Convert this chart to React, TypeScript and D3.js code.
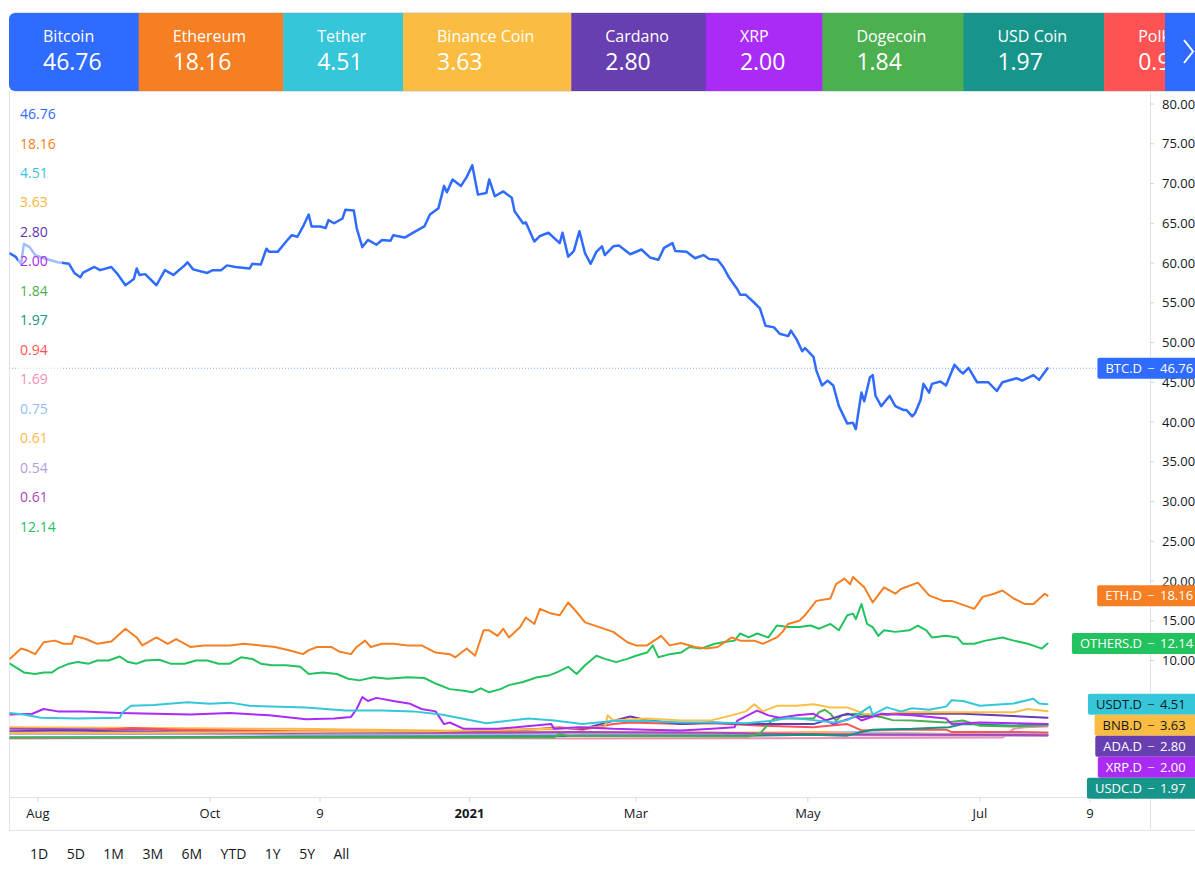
import React from "react";
import * as d3 from "d3";

type Pt = [number, number]; // [days since 2020-07-22, dominance %]

const DAY = 86400000;
const START = Date.UTC(2020, 6, 22);
const FONT = "'Open Sans', 'DejaVu Sans', sans-serif";

// ---------- header tiles ----------
const tileNames = ["Bitcoin", "Ethereum", "Tether", "Binance Coin", "Cardano", "XRP", "Dogecoin", "USD Coin", "Polkadot"];
const tileValues = ["46.76", "18.16", "4.51", "3.63", "2.80", "2.00", "1.84", "1.97", "0.94"];
const tileColors = ["#2f6bff", "#f57f22", "#36c6d9", "#fabd41", "#673fb0", "#aa2bf5", "#4caf50", "#17958a", "#ff5252"];

// ---------- left legend ----------
const legendValues = ["46.76", "18.16", "4.51", "3.63", "2.80", "2.00", "1.84", "1.97", "0.94", "1.69", "0.75", "0.61", "0.54", "0.61", "12.14"];
const legendColors = ["#2f6bff", "#f57f22", "#36c6d9", "#fab43c", "#5e35b1", "#aa2bf5", "#4caf50", "#159485", "#ff5252", "#f48fb1", "#90bff9", "#ffb74d", "#b39ddb", "#ab47bc", "#22c35e"];

// ---------- axes ----------
const priceTicks = [10, 15, 20, 25, 30, 35, 40, 45, 50, 55, 60, 65, 70, 75, 80];
const timeTickDates = ["2020-08-01", "2020-10-01", "2020-11-09", "2021-01-01", "2021-03-01", "2021-05-01", "2021-07-01", "2021-08-09"];
const timeTickLabels = ["Aug", "Oct", "9", "2021", "Mar", "May", "Jul", "9"];
const rangeButtons = ["1D", "5D", "1M", "3M", "6M", "YTD", "1Y", "5Y", "All"];

// ---------- series ----------
const btc: Pt[] = [[0,61.2],[2,60.8],[4,59.9],[5,62.4],[7,62.0],[9,61.0],[12,60.6],[17,60.1],[21,59.9],[23,58.7],[25,58.2],[26,58.8],[30,59.5],[32,59.1],[36,59.5],[38,58.7],[41,57.2],[44,58.0],[45,59.3],[46,58.5],[48,58.6],[52,57.2],[55,59.1],[58,58.5],[62,59.7],[63,60.1],[65,59.2],[70,58.75],[72,59.1],[75,59.1],[77,59.7],[80,59.5],[85,59.3],[86,59.9],[89,59.8],[91,61.8],[92,61.4],[95,61.4],[98,62.7],[100,63.5],[102,63.3],[104,64.6],[106,66.1],[107,64.6],[110,64.6],[112,64.4],[113,65.4],[115,65.0],[118,65.6],[119,66.7],[122,66.6],[123,64.4],[125,62.0],[127,62.9],[130,62.3],[132,62.9],[135,62.8],[136,63.5],[140,63.2],[144,64.0],[147,64.6],[149,66.1],[152,66.9],[154,69.7],[155,68.9],[157,70.5],[160,69.7],[162,70.8],[164,72.3],[166,68.6],[169,68.8],[170,70.5],[172,68.4],[175,69.0],[178,68.2],[179,66.5],[182,65.0],[183,65.1],[186,62.7],[188,63.4],[191,63.8],[195,62.5],[196,63.8],[198,60.8],[200,61.5],[202,64.0],[204,61.2],[206,59.9],[208,61.4],[210,62.1],[211,61.0],[214,62.1],[216,62.2],[220,61.1],[224,61.7],[227,60.7],[230,60.4],[232,61.9],[235,62.5],[236,61.5],[240,61.4],[243,60.6],[246,61.0],[248,60.5],[251,60.4],[253,59.5],[255,58.2],[258,56.7],[259,56.0],[261,56.0],[264,55.0],[266,54.3],[268,52.1],[271,51.9],[273,51.1],[276,50.8],[277,51.5],[279,50.4],[281,48.9],[282,49.3],[285,48.2],[286,46.5],[288,44.6],[290,45.2],[292,44.6],[294,42.0],[297,39.8],[299,39.9],[300,39.1],[302,43.7],[303,42.6],[305,45.6],[306,45.9],[307,43.3],[309,42.0],[312,43.3],[314,42.0],[317,41.5],[318,41.5],[320,40.7],[321,41.1],[323,42.8],[324,44.8],[326,43.7],[327,44.8],[330,45.1],[332,44.6],[335,47.2],[337,46.4],[338,46.1],[340,46.8],[343,45.0],[347,45.0],[350,43.9],[352,45.0],[357,45.5],[359,45.2],[363,45.9],[365,45.3],[368,46.76]];

const eth: Pt[] = [[0,10.2],[4,11.5],[6,11.3],[9,10.8],[12,12.3],[16,12.5],[19,12.1],[22,12.1],[23,13.1],[27,12.7],[31,12.1],[36,12.4],[41,14.0],[45,12.9],[47,11.9],[52,12.9],[56,12.1],[59,12.7],[64,11.7],[69,11.9],[78,11.9],[83,12.1],[89,11.9],[94,11.7],[99,11.3],[104,10.8],[106,11.3],[109,11.7],[114,11.7],[117,11.1],[121,10.8],[123,11.7],[126,12.5],[128,11.7],[132,12.1],[136,12.1],[141,11.9],[146,11.9],[151,11.0],[156,10.8],[158,10.4],[162,11.5],[165,10.6],[168,13.8],[170,13.8],[173,13.1],[175,14.0],[177,12.9],[181,14.2],[183,15.4],[186,14.6],[188,16.5],[192,15.9],[195,15.7],[198,17.3],[201,16.1],[204,14.8],[209,14.2],[214,13.6],[219,12.3],[222,11.9],[226,11.9],[231,13.1],[234,11.9],[238,12.2],[243,11.7],[247,11.5],[251,11.7],[256,12.9],[259,12.5],[264,12.5],[267,12.1],[272,12.9],[274,13.6],[276,14.6],[280,15.0],[282,15.7],[286,17.5],[291,17.8],[293,19.6],[296,20.3],[298,19.6],[299,20.5],[303,19.2],[306,17.3],[310,19.2],[314,18.4],[316,19.0],[322,19.8],[326,18.2],[331,17.5],[334,17.5],[342,16.5],[345,18.0],[349,18.4],[352,18.8],[356,17.8],[360,17.1],[363,17.1],[367,18.4],[368,18.16]];

const others: Pt[] = [[0,9.6],[5,8.5],[9,8.3],[12,8.5],[15,8.5],[17,9.0],[21,9.6],[24,9.8],[28,9.6],[31,10.0],[35,10.0],[39,10.5],[42,9.8],[45,9.6],[48,10.0],[53,10.1],[57,9.6],[62,9.6],[66,10.0],[70,10.0],[74,9.6],[78,9.6],[82,10.4],[86,10.2],[89,9.6],[93,9.4],[98,9.4],[103,9.2],[106,8.3],[111,8.5],[116,8.3],[120,7.7],[124,7.5],[129,7.9],[134,7.7],[141,7.9],[147,7.8],[151,7.1],[156,6.4],[161,6.2],[164,6.0],[167,6.5],[170,6.0],[174,6.4],[177,6.9],[182,7.3],[187,7.9],[191,8.1],[194,8.5],[198,9.2],[201,8.3],[204,9.4],[208,10.6],[211,10.2],[215,9.8],[219,10.2],[222,10.6],[226,11.0],[228,11.9],[230,10.4],[234,10.8],[238,11.0],[241,11.7],[245,11.5],[250,12.1],[253,12.3],[257,12.5],[259,13.4],[262,12.9],[265,13.4],[269,12.9],[272,14.4],[276,14.2],[280,14.2],[284,14.4],[287,14.0],[291,14.6],[294,13.8],[297,15.7],[299,15.9],[300,15.2],[302,17.1],[304,14.6],[306,14.2],[308,13.1],[310,13.8],[314,13.6],[319,13.8],[322,14.4],[325,13.8],[327,12.9],[332,13.1],[336,12.9],[338,12.1],[342,12.1],[346,12.5],[352,12.9],[356,12.5],[361,12.1],[366,11.5],[368,12.14]];

const usdt: Pt[] = [[0,3.4],[5,3.2],[11,2.8],[24,2.7],[39,2.8],[40,3.5],[43,4.3],[51,4.4],[63,4.75],[71,4.55],[78,4.7],[85,4.3],[105,4.1],[119,3.7],[132,3.7],[143,3.6],[153,3.2],[169,2.1],[176,2.4],[184,2.7],[193,2.45],[203,2.0],[214,2.4],[226,2.4],[238,2.2],[249,2.2],[261,2.1],[271,2.45],[276,2.8],[285,2.5],[292,2.2],[297,2.5],[302,3.5],[305,4.2],[306,3.2],[311,4.1],[316,3.6],[320,4.0],[326,3.8],[332,4.2],[334,5.0],[338,4.9],[344,4.3],[356,4.6],[363,5.2],[365,4.6],[368,4.51]];

const xrp: Pt[] = [[0,3.2],[8,3.3],[12,3.9],[17,3.6],[26,3.6],[39,3.4],[64,3.2],[78,3.4],[92,3.1],[105,2.6],[115,2.7],[121,2.9],[123,3.9],[125,5.4],[127,4.9],[130,5.3],[136,4.9],[142,4.55],[146,3.9],[151,3.6],[154,2.0],[156,2.2],[161,1.4],[173,1.4],[192,2.0],[193,1.4],[202,1.6],[214,1.4],[226,1.3],[238,1.2],[249,1.4],[257,1.6],[258,2.45],[265,3.7],[269,3.1],[273,2.8],[279,3.1],[285,3.3],[292,2.0],[300,2.95],[302,2.45],[309,3.3],[320,3.1],[332,2.7],[334,2.0],[344,2.2],[356,2.1],[368,2.0]];

const bnb: Pt[] = [[0,0.9],[40,0.9],[100,1.0],[150,1.1],[180,1.3],[200,1.5],[203,1.6],[211,1.6],[212,3.1],[214,2.45],[226,2.7],[238,2.45],[249,2.5],[256,3.1],[261,3.6],[264,4.5],[267,3.6],[272,4.3],[279,4.3],[285,4.5],[291,4.1],[297,4.1],[303,3.3],[309,3.1],[315,3.5],[320,3.5],[332,3.5],[344,3.5],[356,3.5],[361,3.9],[368,3.63]];

const ada: Pt[] = [[0,1.1],[20,1.2],[50,1.0],[100,0.9],[130,1.0],[160,1.1],[180,1.3],[200,1.5],[203,1.4],[220,2.95],[226,2.5],[238,2.0],[249,2.2],[261,2.0],[273,2.0],[285,2.0],[297,3.3],[302,2.9],[315,3.3],[326,3.3],[338,3.3],[350,3.1],[368,2.8]];

const doge: Pt[] = [[0,0.3],[150,0.3],[193,0.3],[195,0.8],[198,0.5],[262,0.45],[266,0.8],[268,1.6],[271,2.7],[285,2.7],[287,3.5],[289,3.8],[291,3.3],[293,2.45],[295,3.1],[300,3.3],[309,2.9],[313,2.5],[320,2.45],[332,2.2],[338,2.45],[344,1.8],[356,1.7],[368,1.84]];

const usdc: Pt[] = [[0,0.3],[100,0.4],[200,0.5],[203,0.55],[261,0.55],[285,0.65],[297,0.55],[302,1.0],[306,1.3],[320,1.4],[333,1.6],[338,2.0],[344,1.95],[356,1.8],[368,1.97]];

const dot: Pt[] = [[30,1.2],[43,1.5],[60,1.3],[100,1.1],[150,1.0],[180,1.2],[195,1.6],[203,1.3],[214,2.0],[220,2.2],[238,2.0],[249,2.1],[267,1.8],[285,1.6],[297,2.0],[302,1.2],[309,1.3],[332,1.3],[334,1.0],[356,1.0],[368,0.94]];

const pink: Pt[] = [[0,0.2],[100,0.25],[200,0.2],[300,0.25],[352,0.3],[356,1.4],[360,1.6],[368,1.69]];
const lightBlue: Pt[] = [[50,0.3],[100,0.5],[150,0.5],[200,0.6],[260,0.8],[300,1.0],[330,0.8],[368,0.75]];
const lightOrange: Pt[] = [[0,1.6],[50,1.5],[100,1.4],[150,1.2],[200,1.0],[250,0.9],[290,1.0],[300,0.8],[368,0.61]];
const lavender: Pt[] = [[0,0.8],[100,0.7],[150,0.8],[200,0.8],[250,0.7],[300,0.6],[368,0.54]];
const orchid: Pt[] = [[0,1.4],[50,1.3],[100,1.0],[150,0.9],[200,1.0],[250,0.9],[300,0.7],[368,0.61]];

const lineSeries = [
  { data: pink, color: "#f48fb1", w: 2 },
  { data: lightBlue, color: "#90bff9", w: 2 },
  { data: lightOrange, color: "#ffb74d", w: 2 },
  { data: lavender, color: "#b39ddb", w: 2 },
  { data: orchid, color: "#ab47bc", w: 2 },
  { data: dot, color: "#ff5252", w: 2 },
  { data: usdc, color: "#159485", w: 2 },
  { data: doge, color: "#4caf50", w: 2 },
  { data: ada, color: "#673ab7", w: 2 },
  { data: bnb, color: "#fbbf45", w: 2 },
  { data: xrp, color: "#aa2bf5", w: 2 },
  { data: usdt, color: "#36c6d9", w: 2 },
  { data: others, color: "#22c35e", w: 2 },
  { data: eth, color: "#f57f22", w: 2 },
  { data: btc, color: "#2f6bff", w: 2.5 },
];

// ---------- price scale labels ----------
const priceLabelNames = ["BTC.D", "ETH.D", "OTHERS.D", "USDT.D", "BNB.D", "ADA.D", "XRP.D", "USDC.D"];
const priceLabelValues = [46.76, 18.16, 12.14, 4.51, 3.63, 2.8, 2.0, 1.97];
const priceLabelColors = ["#2f6bff", "#f57f22", "#22c35e", "#36c6d9", "#fabd41", "#673fb0", "#aa2bf5", "#17958a"];
const priceLabelTextColors = ["#ffffff", "#ffffff", "#ffffff", "#131722", "#131722", "#ffffff", "#ffffff", "#ffffff"];

let ctx: CanvasRenderingContext2D | null = null;
function measure(text: string, size: number): number {
  if (!ctx && typeof document !== "undefined") ctx = document.createElement("canvas").getContext("2d");
  if (!ctx) return text.length * size * 0.58;
  ctx.font = `${size}px 'Open Sans'`;
  return ctx.measureText(text).width;
}

export default function App() {
  const W = 1195, H = 871;
  const plotL = 9, plotR = 1150, plotT = 92, plotB = 797;

  const x = d3.scaleUtc()
    .domain([new Date(START), new Date(START + 400 * DAY)])
    .range([9.8, 9.8 + 400 * 2.82]);
  const y = d3.scaleLinear().domain([0, 80]).range([740, 104]);
  const line = d3.line<Pt>()
    .x((d) => x(new Date(START + d[0] * DAY)))
    .y((d) => y(d[1]));

  // header tile layout
  let cx = 9;
  const tiles = tileNames.map((n, i) => {
    const w = 34 + Math.max(measure(n, 16), measure(tileValues[i], 23)) + 37;
    const t = { x: cx, w, name: n, value: tileValues[i], color: tileColors[i] };
    cx += w;
    return t;
  });

  // price labels with collision avoidance
  let prev = -Infinity;
  const plabels = priceLabelNames.map((n, i) => {
    const cy = Math.max(y(priceLabelValues[i]), prev + 21);
    prev = cy;
    const left = 1142 - measure(n, 13) - 8;
    return { n, v: priceLabelValues[i].toFixed(2), cy, left, color: priceLabelColors[i], tc: priceLabelTextColors[i] };
  });

  // range buttons
  let bx = 30;
  const buttons = rangeButtons.map((b) => {
    const p = { b, x: bx };
    bx += measure(b, 14) + 18.5;
    return p;
  });

  const parseDate = (s: string) => new Date(s + "T00:00:00Z");

  return (
    <div style={{ position: "absolute", left: 0, top: 0, width: W, height: H, background: "#fff", overflow: "hidden" }}>
      <svg width={W} height={H} style={{ display: "block" }} fontFamily={FONT}>
        <defs>
          <clipPath id="plotClip">
            <rect x={plotL + 0.5} y={plotT} width={plotR - plotL - 0.5} height={plotB - plotT} />
          </clipPath>
          <clipPath id="hdrClip">
            <rect x={9} y={13} width={1200} height={78} rx={6} />
          </clipPath>
        </defs>

        {/* header */}
        <rect x={9.5} y={12.5} width={1200} height={79} rx={6} fill="none" stroke="#e0e3eb" />
        <g clipPath="url(#hdrClip)">
          {tiles.map((t, i) => (
            <g key={i}>
              <rect x={t.x} y={13} width={t.w + 0.5} height={78} fill={t.color} />
              <text x={t.x + 34} y={42} fontSize={16} fill="#fff">{t.name}</text>
              <text x={t.x + 34} y={70} fontSize={23} fill="#fff">{t.value}</text>
            </g>
          ))}
          <rect x={1165} y={13} width={40} height={78} fill="#2f6bff" />
          <path d="M1184,40 L1193,51.5 L1184,63" fill="none" stroke="#fff" strokeWidth={2} />
        </g>

        {/* frame */}
        <line x1={9.5} x2={9.5} y1={91} y2={830} stroke="#e0e3eb" />
        <line x1={plotR + 0.5} x2={plotR + 0.5} y1={91} y2={830} stroke="#e0e3eb" />
        <line x1={9} x2={W} y1={plotB + 0.5} y2={plotB + 0.5} stroke="#e0e3eb" />
        <line x1={9} x2={W} y1={830.5} y2={830.5} stroke="#e0e3eb" />

        {/* lines */}
        <g clipPath="url(#plotClip)">
          <line x1={plotL} x2={plotR} y1={y(46.76)} y2={y(46.76)} stroke="#2f6bff" strokeOpacity={0.6} strokeDasharray="1 2" />
          {lineSeries.map((s, i) => (
            <path key={i} d={line(s.data) || ""} fill="none" stroke={s.color} strokeWidth={s.w} strokeLinejoin="round" strokeLinecap="round" />
          ))}
        </g>

        {/* legend */}
        <rect x={18} y={100} width={44} height={440} fill="#fff" fillOpacity={0.55} />
        {legendValues.map((v, i) => (
          <text key={i} x={20} y={114 + i * 29.47} dy="0.36em" fontSize={14} fill={legendColors[i]}>{v}</text>
        ))}

        {/* price axis */}
        {priceTicks.map((t) => (
          <g key={t}>
            <line x1={plotR} x2={plotR + 4} y1={y(t)} y2={y(t)} stroke="#d1d4dc" />
            <text x={1162} y={y(t)} dy="0.36em" fontSize={13} fill="#131722">{t.toFixed(2)}</text>
          </g>
        ))}

        {plabels.map((p, i) => (
          <g key={i}>
            <rect x={p.left} y={p.cy - 10.5} width={1205 - p.left} height={21} rx={2} fill={p.color} />
            <text x={1142} y={p.cy} dy="0.36em" fontSize={13} fill={p.tc} textAnchor="end">{p.n}</text>
            <text x={1151} y={p.cy} dy="0.36em" fontSize={13} fill={p.tc} fillOpacity={0.8} textAnchor="middle">−</text>
            <text x={1160} y={p.cy} dy="0.36em" fontSize={13} fill={p.tc}>{p.v}</text>
          </g>
        ))}

        {/* time axis */}
        {timeTickDates.map((d, i) => {
          const tx = x(parseDate(d));
          return (
            <g key={d}>
              <line x1={tx} x2={tx} y1={plotB + 1} y2={plotB + 5} stroke="#d1d4dc" />
              <text x={tx} y={818} fontSize={13} fill="#131722" textAnchor="middle" fontWeight={timeTickLabels[i] === "2021" ? 700 : 400}>
                {timeTickLabels[i]}
              </text>
            </g>
          );
        })}

        {/* range buttons */}
        {buttons.map((b) => (
          <text key={b.b} x={b.x} y={859} fontSize={14} fill="#131722">{b.b}</text>
        ))}
      </svg>
    </div>
  );
}
